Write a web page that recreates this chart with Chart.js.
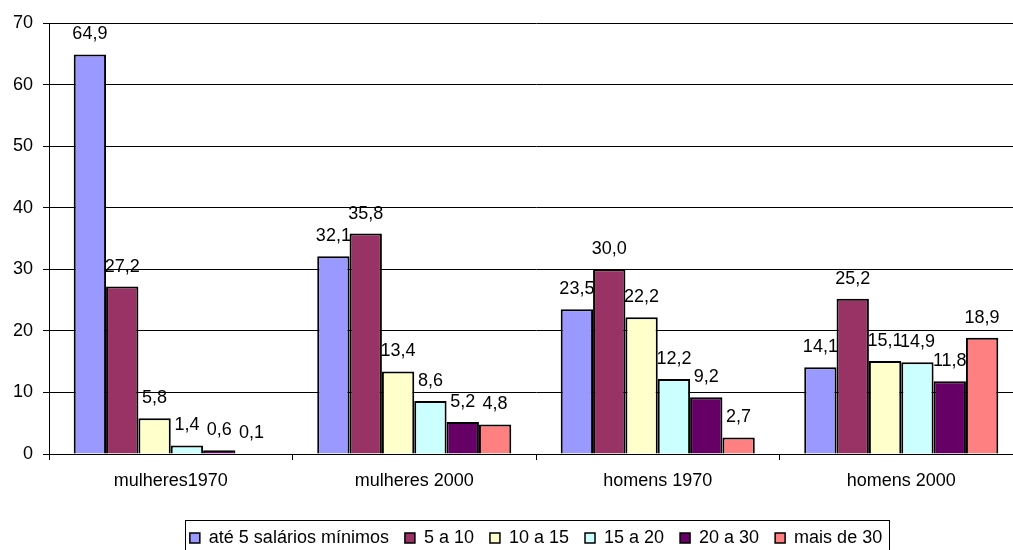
<!DOCTYPE html>
<html>
<head>
<meta charset="utf-8">
<script src="https://cdn.jsdelivr.net/npm/chart.js@4"></script>
<style>
  html, body { margin: 0; padding: 0; background: #fff; overflow: hidden; }
  #wrap { width: 1070px; height: 550px; }
</style>
</head>
<body>
<div id="wrap"><canvas id="chart"></canvas></div>
<script>
const categories = ["mulheres1970", "mulheres 2000", "homens 1970", "homens 2000"];
const seriesNames = ["até 5 salários mínimos", "5 a 10", "10 a 15", "15 a 20", "20 a 30", "mais de 30"];
const seriesColors = ["#9999FF", "#993366", "#FFFFCC", "#CCFFFF", "#660066", "#FF8080"];
const ate5 = [64.9, 32.1, 23.5, 14.1];
const de5a10 = [27.2, 35.8, 30.0, 25.2];
const de10a15 = [5.8, 13.4, 22.2, 15.1];
const de15a20 = [1.4, 8.6, 12.2, 14.9];
const de20a30 = [0.6, 5.2, 9.2, 11.8];
const mais30 = [0.1, 4.8, 2.7, 18.9];
const yTicks = [0, 10, 20, 30, 40, 50, 60, 70];

const seriesValues = [ate5, de5a10, de10a15, de15a20, de20a30, mais30];
const FONT = "'Liberation Sans', Arial, sans-serif";

// value labels above each bar
const valueLabels = {
    id: "valueLabels",
    afterDatasetsDraw(chart) {
        const ctx = chart.ctx;
        ctx.save();
        ctx.font = "18px " + FONT;
        ctx.fillStyle = "#000";
        ctx.textAlign = "center";
        ctx.textBaseline = "alphabetic";
        chart.data.datasets.forEach((ds, i) => {
            chart.getDatasetMeta(i).data.forEach((bar, j) => {
                const txt = ds.data[j].toFixed(1).replace(".", ",");
                ctx.fillText(txt, bar.x, bar.y - 15);
            });
        });
        ctx.restore();
    }
};

// border round the legend items
const legendBox = {
    id: "legendBox",
    afterDraw(chart) {
        const boxes = chart.legend.legendHitBoxes;
        if (!boxes || !boxes.length) return;
        const left = Math.min(...boxes.map(b => b.left));
        const right = Math.max(...boxes.map(b => b.left + b.width));
        const top = Math.min(...boxes.map(b => b.top));
        const ctx = chart.ctx;
        ctx.save();
        ctx.strokeStyle = "#000";
        ctx.lineWidth = 1;
        ctx.strokeRect(Math.round(left - 5) + 0.5, Math.round(top - 9) + 0.5,
            Math.round(right - left + 12), 40);
        ctx.restore();
    }
};

new Chart(document.getElementById("chart"), {
    type: "bar",
    data: {
        labels: categories,
        datasets: seriesValues.map((vals, i) => ({
            label: seriesNames[i],
            data: vals,
            backgroundColor: seriesColors[i],
            borderColor: "#000",
            borderWidth: 2,
            categoryPercentage: 0.797,
            barPercentage: 1
        }))
    },
    options: {
        responsive: true,
        maintainAspectRatio: false,
        animation: false,
        layout: { padding: { top: 23, right: 47, left: 0, bottom: -7 } },
        plugins: {
            tooltip: { enabled: false },
            legend: {
                position: "bottom",
                fullSize: false,
                labels: {
                    color: "#000",
                    font: { family: FONT, size: 18 },
                    boxWidth: 10,
                    boxHeight: 10,
                    padding: 16,
                    generateLabels(chart) {
                        return chart.data.datasets.map((ds, i) => ({
                            text: ds.label,
                            fillStyle: ds.backgroundColor,
                            strokeStyle: "#000",
                            lineWidth: 1.5,
                            datasetIndex: i
                        }));
                    }
                }
            }
        },
        scales: {
            x: {
                grid: {
                    offset: true,
                    drawOnChartArea: false,
                    color: "#000",
                    tickLength: 6
                },
                border: { color: "#000" },
                ticks: { color: "#000", font: { family: FONT, size: 18 }, padding: 10 },
                afterFit(scale) { scale.height = 59; }
            },
            y: {
                min: 0,
                max: 70,
                afterBuildTicks(scale) { scale.ticks = yTicks.map(v => ({ value: v })); },
                grid: { color: "#000", tickLength: 6 },
                border: { color: "#000" },
                ticks: { color: "#000", font: { family: FONT, size: 18 }, padding: 10 },
                afterFit(scale) { scale.width = 49; }
            }
        }
    },
    plugins: [valueLabels, legendBox]
});
</script>
</body>
</html>
